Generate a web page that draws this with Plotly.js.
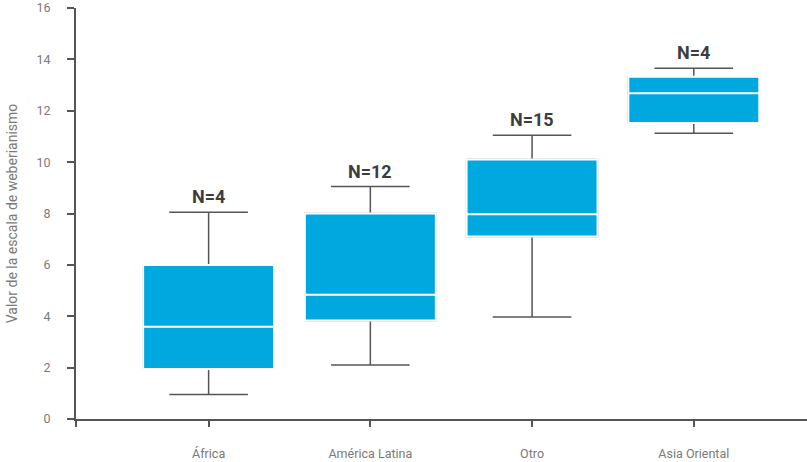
<!DOCTYPE html>
<html>
<head>
<meta charset="utf-8">
<script src="https://cdn.plot.ly/plotly-3.0.1.min.js"></script>
<style>
  html, body { margin: 0; padding: 0; background: #ffffff; }
  #chart { width: 807px; height: 462px; }
</style>
</head>
<body>
<div id="chart"></div>
<script>
// Regions and their weberianism-score distributions
const regions = ['África', 'América Latina', 'Otro', 'Asia Oriental'];
const lowerWhisker = [0.95, 2.1, 3.97, 11.12];
const q1 = [1.95, 3.83, 7.1, 11.52];
const median = [3.59, 4.84, 7.97, 12.68];
const q3 = [6.0, 8.0, 10.1, 13.32];
const upperWhisker = [8.05, 9.05, 11.05, 13.65];
const sampleSizes = [4, 12, 15, 4];

const yTicks = [0, 2, 4, 6, 8, 10, 12, 14, 16];

const positions = regions.map((_, i) => i);
const xRange = [-0.82, 3.7];

const BLUE = '#00a8e0';
const AXIS = '#555555';
const LABEL = '#7a7a7a';

// Whiskers and caps (grey), underneath the box bodies
const whiskers = {
  type: 'box',
  x: positions,
  q1: q1,
  median: median,
  q3: q3,
  lowerfence: lowerWhisker,
  upperfence: upperWhisker,
  width: 0.81,
  whiskerwidth: 0.6,
  fillcolor: BLUE,
  line: { color: AXIS, width: 1.5 },
  boxpoints: false,
  hoverinfo: 'skip',
  showlegend: false
};

// Box bodies with a white median line
const bodies = {
  type: 'box',
  x: positions,
  q1: q1,
  median: median,
  q3: q3,
  lowerfence: q1,
  upperfence: q3,
  width: 0.81,
  whiskerwidth: 0,
  fillcolor: BLUE,
  line: { color: '#ffffff', width: 2 },
  boxpoints: false,
  hoverinfo: 'skip',
  showlegend: false
};

const nLabels = regions.map((_, i) => ({
  x: positions[i],
  y: upperWhisker[i],
  xref: 'x',
  yref: 'y',
  text: '<b>N=' + sampleSizes[i] + '</b>',
  showarrow: false,
  yanchor: 'bottom',
  yshift: 3,
  font: { family: 'Roboto, sans-serif', size: 18, color: '#3d3d3d' }
}));

const layout = {
  width: 807,
  height: 462,
  margin: { l: 76, r: 0, t: 8, b: 43 },
  paper_bgcolor: '#ffffff',
  plot_bgcolor: '#ffffff',
  boxmode: 'overlay',
  font: { family: 'Roboto, sans-serif', size: 12, color: LABEL },
  xaxis: {
    type: 'linear',
    range: xRange,
    tickmode: 'array',
    tickvals: [xRange[0]].concat(positions),
    ticktext: [''].concat(regions),
    ticks: 'outside',
    ticklen: 6,
    tickwidth: 2,
    tickcolor: AXIS,
    showline: true,
    linecolor: AXIS,
    linewidth: 2,
    showgrid: false,
    zeroline: false,
    ticklabelstandoff: 16,
    tickfont: { family: 'Roboto, sans-serif', size: 12.5, color: LABEL },
    fixedrange: true
  },
  yaxis: {
    range: [0, 16],
    tickmode: 'array',
    tickvals: yTicks,
    ticks: 'outside',
    ticklen: 7,
    tickwidth: 2,
    tickcolor: AXIS,
    showline: true,
    linecolor: AXIS,
    linewidth: 2,
    showgrid: false,
    zeroline: false,
    ticklabelstandoff: 14,
    tickfont: { family: 'Roboto, sans-serif', size: 12.5, color: LABEL },
    title: {
      text: 'Valor de la escala de weberianismo',
      font: { family: 'Roboto, sans-serif', size: 14, color: LABEL },
      standoff: 16
    },
    fixedrange: true
  },
  annotations: nLabels
};

Plotly.newPlot('chart', [whiskers, bodies], layout, { displayModeBar: false, staticPlot: true });
</script>
</body>
</html>
